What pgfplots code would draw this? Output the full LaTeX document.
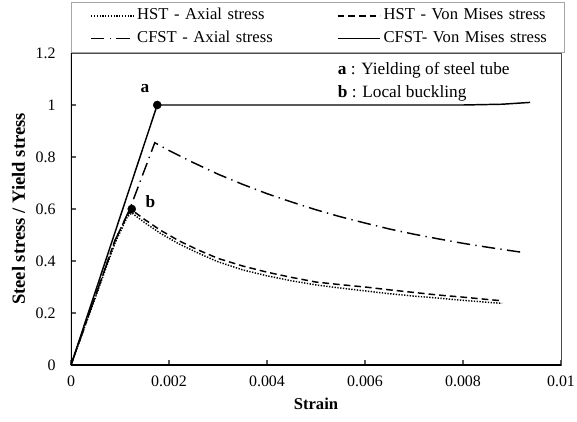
\documentclass[border=0pt]{standalone}
\usepackage{pgfplots}
\pgfplotsset{compat=1.18}
\usepackage{fontspec}
\setmainfont{Liberation Serif}
\begin{document}
\begin{tikzpicture}
\begin{axis}[
  scale only axis,
  width=367.5bp, height=234bp,
  xmin=0, xmax=0.01, ymin=0, ymax=1.2,
  xtick={0,0.002,0.004,0.006,0.008,0.01},
  xticklabels={0,0.002,0.004,0.006,0.008,0.01},
  ytick={0,0.2,0.4,0.6,0.8,1,1.2},
  yticklabels={0,0.2,0.4,0.6,0.8,1,1.2},
  scaled x ticks=false,
  tick align=inside, xtick pos=bottom, ytick pos=left,
  major tick length=4bp,
  tick style={gray!70!black, line width=0.8pt},
  /pgf/number format/assume math mode=true,
  tick label style={font=\fontsize{12}{14}\selectfont},
  xticklabel style={yshift=-4.5bp},
  yticklabel style={xshift=-8bp},
  xlabel={\textbf{Strain}}, ylabel={\textbf{Steel stress / Yield stress}},
  xlabel style={at={(rel axis cs:0.5,0)}, anchor=north, yshift=-21bp, font=\fontsize{12.5}{15}\selectfont},
  ylabel style={at={(rel axis cs:0,0.5)}, anchor=south, yshift=31bp, font=\fontsize{14}{16}\selectfont},
  axis line style={gray!60!black, line width=0.6pt},
  legend columns=2,
  legend style={at={(0,1)}, anchor=south west, draw=gray!70, line width=0.6pt,
    font=\fontsize{12.5}{15}\selectfont, inner xsep=9.25bp, inner ysep=4.5bp,
    nodes={text width=124bp, inner xsep=2bp, inner ysep=0bp, text height=9bp, text depth=3bp},
    row sep=5bp,
    /tikz/every even column/.append style={column sep=18.75bp}},
  legend image code/.code={\path (0bp,0bp); \draw[#1] (5bp,0bp) -- (37bp,0bp);},
]
\addplot[black, line width=1.1pt, dash pattern=on 1bp off 1.1bp] coordinates {
(0,0) (0.0009,0.47) (0.00115,0.57) (0.00124,0.585) (0.0015,0.548) (0.00182,0.507)
(0.0022,0.466) (0.0026,0.43) (0.003,0.397) (0.0035,0.366) (0.004,0.343) (0.0045,0.324)
(0.005,0.308) (0.0055,0.296) (0.006,0.285) (0.0065,0.274) (0.007,0.265) (0.0075,0.257)
(0.008,0.249) (0.0085,0.241) (0.0088,0.237)};
\addlegendentry{HST - Axial stress}
\addplot[black, line width=1.1pt, dash pattern=on 5bp off 3bp] coordinates {
(0,0) (0.0009,0.48) (0.00115,0.578) (0.00125,0.595) (0.0015,0.56) (0.00182,0.519)
(0.0022,0.478) (0.0026,0.442) (0.003,0.41) (0.0035,0.381) (0.004,0.357) (0.0045,0.337)
(0.005,0.319) (0.0055,0.309) (0.006,0.3) (0.0065,0.289) (0.007,0.279) (0.0075,0.269)
(0.008,0.261) (0.0085,0.252) (0.0088,0.247)};
\addlegendentry{HST - Von Mises stress}
\addplot[black, line width=1.1pt, dash pattern=on 10bp off 4bp on 1bp off 4bp] coordinates {
(0,0) (0.0009,0.48) (0.0012,0.6) (0.0014,0.7) (0.00171,0.855) (0.002,0.825)
(0.0025,0.778) (0.003,0.734) (0.0035,0.695) (0.004,0.659) (0.0045,0.627) (0.005,0.597)
(0.0055,0.57) (0.006,0.546) (0.0065,0.523) (0.007,0.503) (0.0075,0.485) (0.008,0.468)
(0.0085,0.453) (0.009,0.439) (0.00922,0.433)};
\addlegendentry{CFST - Axial stress}
\addplot[black, line width=1.1pt] coordinates {
(0,0) (0.00176,1.0) (0.0080,1.0) (0.0088,1.003) (0.00937,1.01)};
\addlegendentry{CFST- Von Mises stress}
\addplot[black, only marks, mark=*, mark size=3bp, forget plot] coordinates {
(0.00176,1.0) (0.00124,0.6)};
\draw[black, line width=1.5pt] (rel axis cs:0,1) |- (rel axis cs:1,0);
\node[font=\fontsize{13}{15}\selectfont\bfseries] at (axis cs:0.00151,1.065) {a};
\node[font=\fontsize{13}{15}\selectfont\bfseries] at (axis cs:0.00162,0.627) {b};
\node[anchor=west, font=\fontsize{13}{15}\selectfont] at (axis cs:0.00535,1.135) {\textbf{a} : Yielding of steel tube};
\node[anchor=west, font=\fontsize{13}{15}\selectfont] at (axis cs:0.00535,1.046) {\textbf{b} : Local buckling};
\end{axis}
\pgfresetboundingbox
\path ([shift={(-53.25bp,-42.75bp)}]current axis.south west) rectangle ([shift={(12bp,39.75bp)}]current axis.north east);
\end{tikzpicture}
\end{document}
